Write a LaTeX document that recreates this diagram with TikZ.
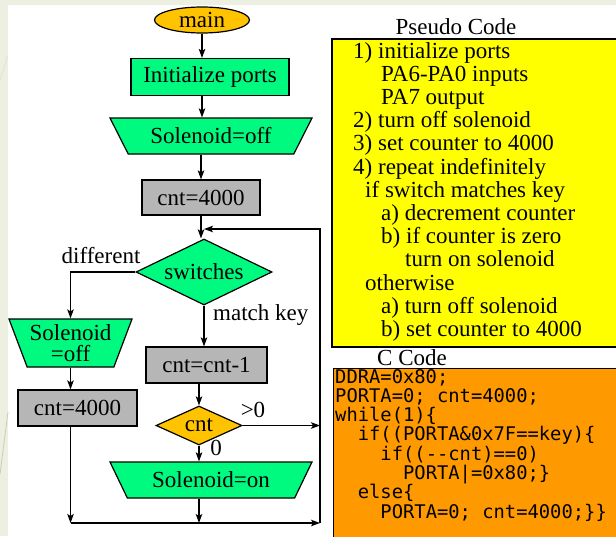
\documentclass[tikz,border=0pt]{standalone}
\usepackage{fontspec}
\setmainfont{Liberation Serif}
\setmonofont{DejaVu Sans Mono}
\usetikzlibrary{shapes.geometric,arrows.meta}

\definecolor{slidebg}{RGB}{237,240,224}
\definecolor{slideline}{RGB}{200,205,180}
\definecolor{flowgreen}{RGB}{0,250,128}
\definecolor{flowgold}{RGB}{255,195,0}
\definecolor{boxgray}{RGB}{182,182,182}
\definecolor{codeyellow}{RGB}{255,255,0}
\definecolor{codeorange}{RGB}{255,153,0}

\tikzset{
  flow/.style={draw, line width=1.2pt, font=\fontsize{23}{24}\selectfont, inner sep=0pt},
  startnode/.style={flow, ellipse, fill=flowgold},
  procbox/.style={flow, rectangle, fill=flowgreen},
  cntbox/.style={flow, rectangle, fill=boxgray},
  outbox/.style={flow, trapezium, fill=flowgreen, shape border rotate=180,
    trapezium stretches body},
  decision/.style={flow, diamond},
  lbl/.style={font=\fontsize{23}{24}\selectfont, inner sep=0pt, anchor=base},
  arr/.style={-{Stealth[length=9pt,width=6.5pt,inset=2pt]}, line width=1.2pt},
  pline/.style={font=\fontsize{23}{23}\selectfont, inner sep=0pt, anchor=base west},
  cline/.style={font=\ttfamily\fontsize{18.8}{19}\selectfont, inner sep=0pt, anchor=base west},
}

\begin{document}
\begin{tikzpicture}[x=1pt,y=-1pt]
  \useasboundingbox (0,0) rectangle (616,536);
  \fill[slidebg] (0,0) rectangle (616,536);
  \fill[white] (8,5) rectangle (616,536);
  \draw[slideline!60, line width=0.6pt] (8,55) -- (0,80);
  \draw[slideline, line width=0.8pt] (8,412) -- (0,474);

  % flow chart
  \node[startnode, minimum width=95pt, minimum height=26pt] (main) at (202,20) {main};
  \node[procbox, minimum width=158pt, minimum height=37pt] (init) at (210,77) {Initialize ports};
  \node[outbox, trapezium angle=42, minimum width=202pt, minimum height=36pt] (soloff) at (211,136) {Solenoid=off};
  \node[cntbox, minimum width=118pt, minimum height=35pt] (cnt) at (201,197.5) {cnt=4000};
  \node[decision, aspect=2.06, fill=flowgreen, minimum width=136pt, minimum height=66pt] (switches) at (204,272) {switches};
  \node[outbox, trapezium angle=64, minimum width=123pt, minimum height=48pt, inner xsep=-3pt,
    align=center, font=\fontsize{23}{21}\selectfont] (soloffL) at (70.5,343) {Solenoid\\=off};
  \node[cntbox, minimum width=119pt, minimum height=36pt] (cntL) at (77.5,408) {cnt=4000};
  \node[cntbox, minimum width=121pt, minimum height=36pt] (dec) at (206.5,365) {cnt=cnt-1};
  \node[decision, aspect=2.2, fill=flowgold, minimum width=86pt, minimum height=39pt] (cntd) at (199,425.5) {cnt};
  \node[outbox, trapezium angle=43, minimum width=202pt, minimum height=36pt] (solon) at (211,480) {Solenoid=on};

  \coordinate (loopTR) at (320,229);
  \coordinate (loopBR) at (320,523);

  \node[lbl] (ldiff) at (101,263) {different};
  \node[lbl, anchor=base west] (lmatch) at (213,320) {match key};
  \node[lbl] (lgt) at (253,417) {>0};
  \node[lbl] (lzero) at (216,455) {0};

  \draw[arr] (main) -- (main |- init.north);
  \draw[arr] (init.south -| main) -- (main |- soloff.north);
  \draw[arr] (soloff.south -| cnt) -- (cnt.north);
  \draw[arr] (cnt.south) -- (cnt.south |- switches.north);
  \draw[arr] (switches.west) -| (soloffL.north);
  \draw[arr] (soloffL.south) -- (soloffL.south |- cntL.north);
  \draw[arr] (soloffL.south |- cntL.south) -- (soloffL.south |- loopBR);
  \draw[arr] (soloffL.south |- loopBR) -- (loopBR);
  \draw[arr] (loopBR) -- (loopTR) -- ([xshift=3pt]cnt.south |- loopTR);
  \draw[arr] (switches.south) -- (switches.south |- dec.north);
  \draw[arr] (dec.south -| cntd) -- (cntd.north);
  \draw[arr] (cntd.east) -- (cntd.east -| loopBR);
  \draw[arr] (cntd.south) -- (cntd.south |- solon.north);
  \draw[arr] (cntd.south |- solon.south) -- (cntd.south |- loopBR);

  % pseudo code
  \node[lbl] (ptitle) at (456,34) {Pseudo Code};
  \draw[line width=1.5pt, fill=codeyellow] (332,39) rectangle (640,347);
  \foreach \ind/\txt [count=\i] in {0/1) initialize ports, 28/PA6-PA0 inputs, 28/PA7 output,
      0/2) turn off solenoid, 0/3) set counter to 4000, 0/4) repeat indefinitely,
      12/if switch matches key, 28/a) decrement counter, 28/b) if counter is zero,
      52/turn on solenoid, 12/otherwise, 28/a) turn off solenoid, 28/b) set counter to 4000}
    \node[pline] (p\i) at ({353+\ind},{58+23.2*(\i-1)}) {\txt};

  % C code
  \node[lbl] (ctitle) at (412,365) {C Code};
  \draw[line width=1pt, fill=codeorange] (333,368) rectangle (640,560);
  \foreach \ind/\txt [count=\i] in {0/DDRA=0x80;, 0/PORTA=0; cnt=4000;, 0/while(1)\{,
      2/if((PORTA\&0x7F==key)\{, 4/if((-{}-cnt)==0), 6/PORTA|=0x80;\},
      2/else\{, 4/PORTA=0; cnt=4000;\}\}}
    \node[cline] (c\i) at ({335+11.32*\ind},{383+19.3*(\i-1)}) {\txt};
\end{tikzpicture}
\end{document}
